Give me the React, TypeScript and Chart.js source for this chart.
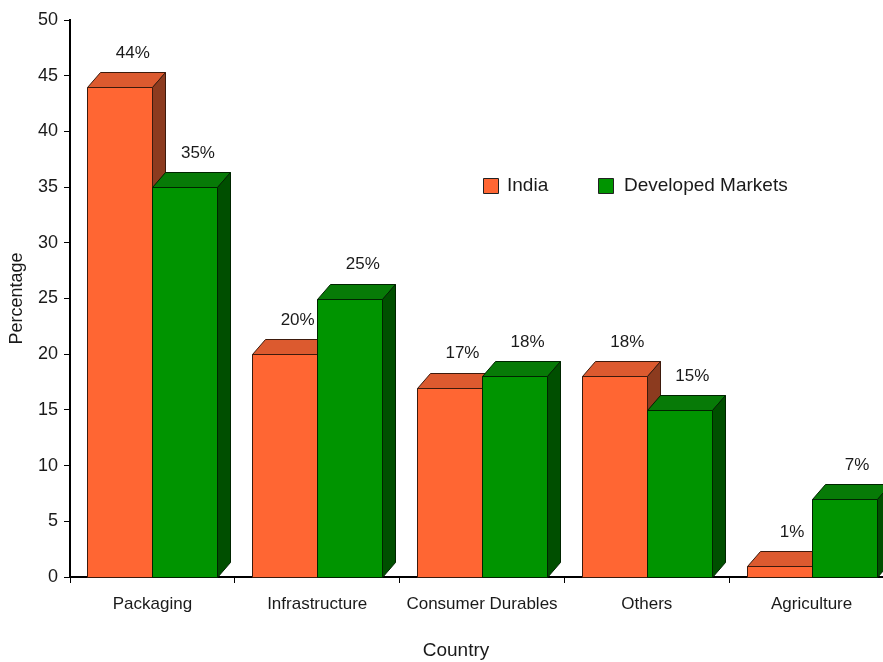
import React, { useEffect, useRef } from "react";
import { Chart, registerables } from "chart.js";

Chart.register(...registerables);

// ---- data ----
const categories = ["Packaging", "Infrastructure", "Consumer Durables", "Others", "Agriculture"];
const seriesNames = ["India", "Developed Markets"];
const indiaValues = [44, 20, 17, 18, 1];
const developedValues = [35, 25, 18, 15, 7];
const yMin = 0;
const yMax = 50;
const yStep = 5;
const xTitle = "Country";
const yTitle = "Percentage";

// ---- styles ----
const FONT = "'Liberation Sans Narrow', 'Liberation Sans', Arial, sans-serif";
const TEXT = "#1a1a1a";
const palette = [
  { front: "#FF6633", top: "#DC5A2F", side: "#8C3B1F", edge: "#3d1a0c" },
  { front: "#009400", top: "#077A07", side: "#004F00", edge: "#002400" },
];
const DX = 13;
const DY = 15;

const bars3d = {
  id: "bars3d",
  beforeDatasetsDraw(chart: any) {
    const ctx: CanvasRenderingContext2D = chart.ctx;
    const n = chart.data.labels.length;
    ctx.save();
    ctx.lineWidth = 1;
    ctx.lineJoin = "miter";
    for (let j = 0; j < n; j++) {
      chart.data.datasets.forEach((ds: any, i: number) => {
        const meta = chart.getDatasetMeta(i);
        const el = meta.data[j];
        if (!el) return;
        const p = el.getProps(["x", "y", "base", "width"], true);
        const c = palette[i];
        const l = Math.round(p.x - p.width / 2);
        const r = Math.round(p.x + p.width / 2);
        const t = Math.round(p.y);
        const b = Math.round(p.base);
        ctx.strokeStyle = c.edge;
        // front
        ctx.fillStyle = c.front;
        ctx.beginPath();
        ctx.rect(l + 0.5, t + 0.5, r - l, b - t);
        ctx.fill();
        ctx.stroke();
        // top
        ctx.fillStyle = c.top;
        ctx.beginPath();
        ctx.moveTo(l + 0.5, t + 0.5);
        ctx.lineTo(l + DX + 0.5, t - DY + 0.5);
        ctx.lineTo(r + DX + 0.5, t - DY + 0.5);
        ctx.lineTo(r + 0.5, t + 0.5);
        ctx.closePath();
        ctx.fill();
        ctx.stroke();
        // side
        ctx.fillStyle = c.side;
        ctx.beginPath();
        ctx.moveTo(r + 0.5, t + 0.5);
        ctx.lineTo(r + DX + 0.5, t - DY + 0.5);
        ctx.lineTo(r + DX + 0.5, b - DY + 0.5);
        ctx.lineTo(r + 0.5, b + 0.5);
        ctx.closePath();
        ctx.fill();
        ctx.stroke();
      });
    }
    ctx.restore();
    return false;
  },
  afterDraw(chart: any) {
    const ctx: CanvasRenderingContext2D = chart.ctx;
    ctx.save();
    // value labels
    ctx.fillStyle = TEXT;
    ctx.font = `17px ${FONT}`;
    ctx.textAlign = "center";
    ctx.textBaseline = "middle";
    chart.data.datasets.forEach((ds: any, i: number) => {
      const meta = chart.getDatasetMeta(i);
      meta.data.forEach((el: any, j: number) => {
        const p = el.getProps(["x", "y"], true);
        ctx.fillText(`${ds.data[j]}%`, p.x + DX, p.y - DY - 19);
      });
    });
    // legend
    const legendItems = [
      { box: 483, text: 507 },
      { box: 598, text: 624 },
    ];
    ctx.font = `19px ${FONT}`;
    ctx.textAlign = "left";
    chart.data.datasets.forEach((ds: any, i: number) => {
      const it = legendItems[i];
      ctx.fillStyle = palette[i].front;
      ctx.strokeStyle = "#222";
      ctx.lineWidth = 1;
      ctx.beginPath();
      ctx.rect(it.box + 0.5, 178.5, 15, 15);
      ctx.fill();
      ctx.stroke();
      ctx.fillStyle = TEXT;
      ctx.fillText(ds.label, it.text, 186);
    });
    // x title
    ctx.font = `19px ${FONT}`;
    ctx.textAlign = "center";
    ctx.fillText(xTitle, 456, 651);
    ctx.restore();
  },
};

export default function App() {
  const ref = useRef<HTMLCanvasElement | null>(null);
  useEffect(() => {
    if (!ref.current) return;
    const chart = new Chart(ref.current, {
      type: "bar",
      data: {
        labels: categories,
        datasets: [
          { label: seriesNames[0], data: indiaValues, backgroundColor: palette[0].front },
          { label: seriesNames[1], data: developedValues, backgroundColor: palette[1].front },
        ],
      },
      options: {
        responsive: false,
        animation: false,
        layout: { padding: { top: 20, right: 6, left: 0, bottom: 0 } },
        datasets: { bar: { categoryPercentage: 0.79, barPercentage: 1 } },
        plugins: {
          legend: { display: false },
          tooltip: { enabled: false },
          title: { display: false },
        },
        scales: {
          x: {
            type: "category",
            offset: true,
            grid: { display: true, drawOnChartArea: false, tickLength: 6, color: "#000", lineWidth: 1, offset: true },
            border: { display: true, color: "#000", width: 2 },
            ticks: { color: TEXT, font: { family: FONT, size: 17 }, padding: 11, maxRotation: 0, autoSkip: false },
            afterFit: (scale: any) => {
              scale.height = 85;
            },
          },
          y: {
            min: yMin,
            max: yMax,
            ticks: { stepSize: yStep, color: TEXT, font: { family: FONT, size: 18 }, padding: 6 },
            grid: { display: true, drawOnChartArea: false, tickLength: 6, color: "#000", lineWidth: 1 },
            border: { display: true, color: "#000", width: 2 },
            title: {
              display: true,
              text: yTitle,
              color: TEXT,
              font: { family: FONT, size: 18 },
              padding: { top: 6, bottom: 0 },
            },
            afterFit: (scale: any) => {
              scale.width = 70;
            },
          },
        },
      },
      plugins: [bars3d],
    });
    return () => chart.destroy();
  }, []);

  return (
    <div
      style={{
        position: "fixed",
        left: 0,
        top: 0,
        width: 883,
        height: 662,
        overflow: "hidden",
        background: "#fff",
      }}
    >
      <canvas ref={ref} width={900} height={662} style={{ display: "block" }} />
    </div>
  );
}
